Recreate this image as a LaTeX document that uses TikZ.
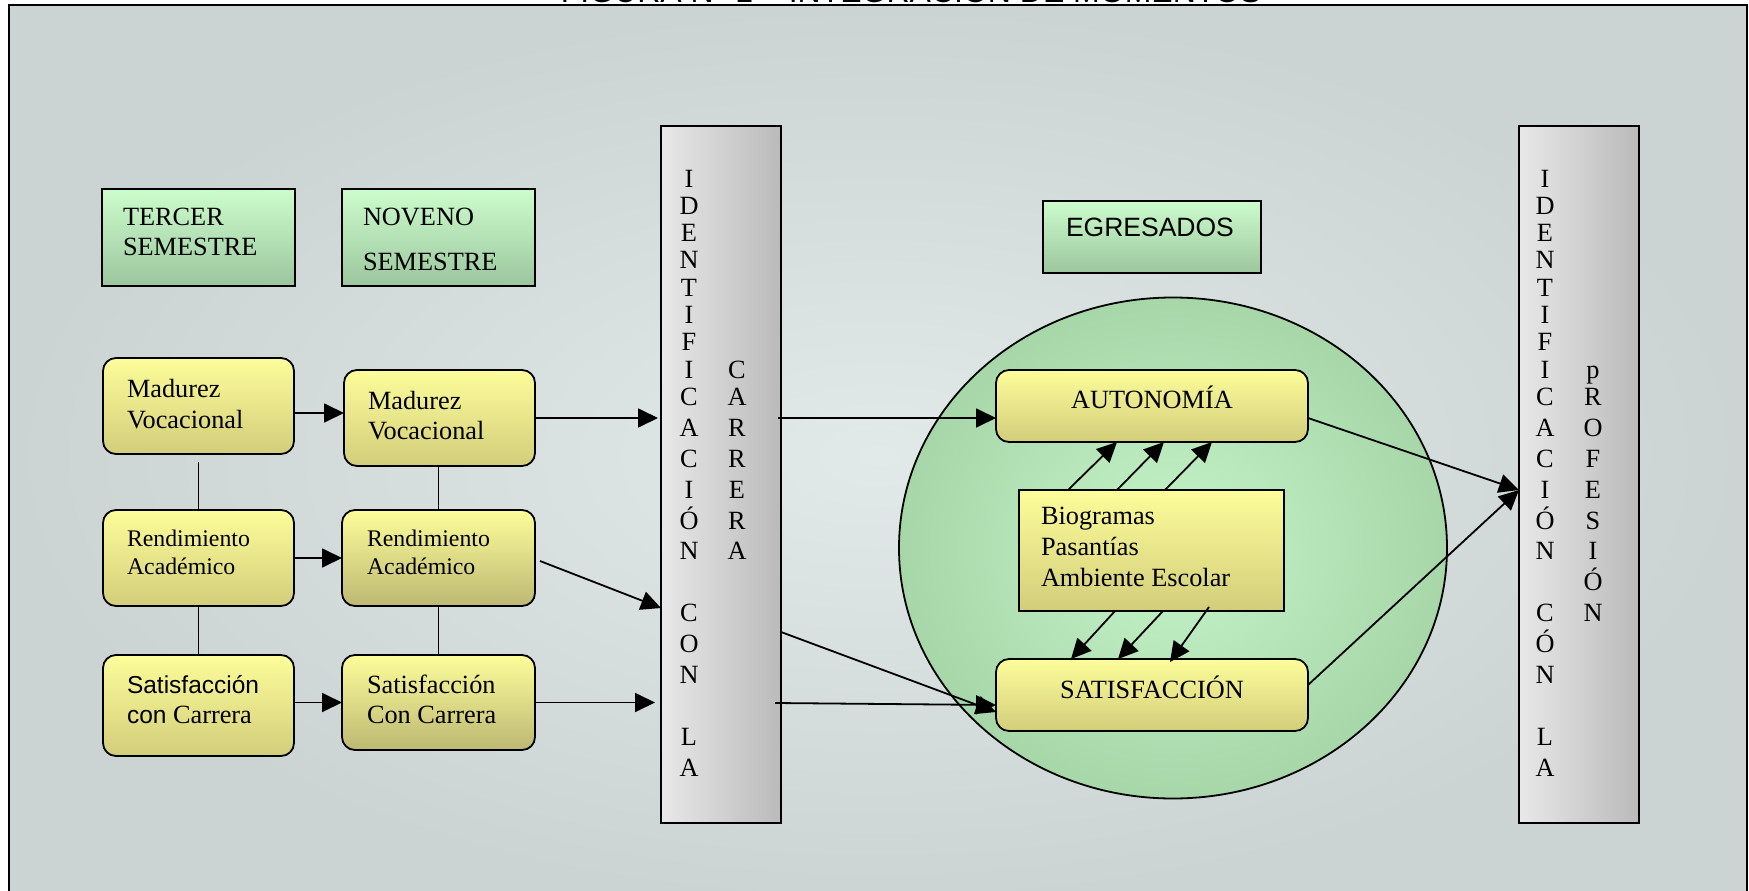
\documentclass[tikz,border=0pt]{standalone}
\usepackage{fontspec}
\setmainfont{Liberation Serif}
\newfontfamily\arialf{Liberation Sans}
\usetikzlibrary{arrows.meta,shapes.geometric,calc}
\definecolor{bgin}{HTML}{E1EAE9}
\definecolor{bgout}{HTML}{CBD4D3}
\definecolor{grtop}{HTML}{CCFCCC}
\definecolor{grbot}{HTML}{9CC69E}
\definecolor{yetop}{HTML}{FDFD9A}
\definecolor{yebot}{HTML}{D2CD7B}
\definecolor{yebotb}{HTML}{BDB873}
\definecolor{colL}{HTML}{E8E8E8}
\definecolor{colR}{HTML}{BABABA}
\definecolor{cirin}{HTML}{C4F4C8}
\definecolor{cirout}{HTML}{A7D7A9}
\begin{document}
\begin{tikzpicture}[x=1pt,y=-1pt,
  declare function={rowy(\r)=(\r<=9)?(187+(\r-1)*27.3):(405.4+(\r-9)*30.9);},
  every node/.style={inner sep=0pt, outer sep=0pt},
  fr/.style={draw=black, line width=1.8pt},
  gbox/.style={fr, top color=grtop, bottom color=grbot, anchor=north west},
  ybox/.style={fr, rounded corners=13pt, top color=yetop, bottom color=yebot, anchor=north west},
  colbox/.style={fr, left color=colL, right color=colR, anchor=north west, minimum width=120pt, minimum height=697pt},
  tx/.style={anchor=base west, font=\fontsize{26.3}{30}\selectfont},
  txs/.style={anchor=base west, font=\fontsize{23.8}{28}\selectfont},
  letter/.style={anchor=base, font=\fontsize{26.3}{30}\selectfont},
  arr/.style={-{Triangle[length=20pt,width=19pt]}, line width=1.8pt},
  ln/.style={line width=1.8pt}
]
\useasboundingbox (0,0) rectangle (1749,891);
% background and frame
\shade[inner color=bgin, outer color=bgout] (9,5) rectangle (1747,905);
\draw[line width=2.5pt] (9,5) rectangle (1747,905);
\node[anchor=base, font=\arialf\fontsize{32}{36}\selectfont] (title) at (911,3) {FIGURA N° 1 – INTEGRACIÓN DE MOMENTOS};

% header boxes
\node[gbox, minimum width=193pt, minimum height=97pt] (tercer) at (102,189) {};
\node[gbox, minimum width=193pt, minimum height=97pt] (noveno) at (342,189) {};
\node[gbox, minimum width=218pt, minimum height=72pt] (egres) at (1043,201) {};

% left boxes
\node[ybox, minimum width=191pt, minimum height=96pt] (mad1) at (103,358) {};
\node[ybox, minimum width=191pt, minimum height=96pt] (mad2) at (344,370) {};
\node[ybox, minimum width=191pt, minimum height=96pt] (rend1) at (103,510) {};
\node[ybox, minimum width=193pt, minimum height=96pt, bottom color=yebotb] (rend2) at (342,510) {};
\node[ybox, minimum width=191pt, minimum height=101pt] (sat1) at (103,655) {};
\node[ybox, minimum width=193pt, minimum height=95pt, bottom color=yebotb] (sat2) at (342,655) {};

% columns
\node[colbox] (colA) at (661,126) {};
\node[colbox] (colB) at (1519,126) {};

% circle and inner boxes
\node[ellipse, fr, inner color=cirin, outer color=cirout, minimum width=548pt, minimum height=501pt] (circ) at (1173,548) {};
\node[ybox, minimum width=312pt, minimum height=72pt] (auto) at (996,370) {};
\node[ybox, minimum width=312pt, minimum height=72pt] (satis) at (996,659) {};
\node[fr, top color=yetop, bottom color=yebot, anchor=north west, minimum width=265pt, minimum height=121pt] (bio) at (1019,490) {};

% vertical links
\draw[ln] ([yshift=-8pt]mad1.south) -- (rend1.north);
\draw[ln] (rend1.south) -- (sat1.north);
\draw[ln] (mad2.south -| rend2.north) -- (rend2.north);
\draw[ln] (rend2.south) -- (sat2.north);

% arrows left
\draw[arr] ([yshift=-7pt]mad1.east) -- ([yshift=5pt]mad2.west);
\draw[arr] (rend1.east) -- (rend2.west);
\draw[arr] (sat1.east |- sat2.west) -- (sat2.west);
\draw[arr, shorten >=3pt] (mad2.east) -- (colA.west |- mad2.east);
\draw[arr] ([xshift=5pt,yshift=-3pt]rend2.east) -- (colA.west |- 0,608);
\draw[arr, shorten >=6pt] (sat2.east) -- (colA.west |- sat2.east);

% arrows middle
\draw[arr] ($(colA.east |- 0,418)+(-3,0)$) -- (auto.west |- 0,418);
\draw[arr] (colA.east |- 0,632) -- (satis.west |- 0,712);
\draw[arr] ($(colA.east |- 0,703)+(-6,0)$) -- (satis.west |- 0,705);
\draw[arr] (auto.east |- 0,418) -- (colB.west |- 0,490);
\draw[arr] (satis.east |- 0,685) -- (colB.west |- 0,490);

% bio arrows
\draw[arr] (1068,0 |- bio.north) -- (1117,0 |- auto.south);
\draw[arr] (1117,0 |- bio.north) -- (1164,0 |- auto.south);
\draw[arr] (1165,0 |- bio.north) -- (1212,0 |- auto.south);
\draw[arr] (1115,0 |- bio.south) -- (1071,0 |- satis.north);
\draw[arr] (1163,0 |- bio.south) -- (1118,0 |- satis.north);
\draw[arr] ($(1209,0 |- bio.south)+(0,-4)$) -- ($(1170,0 |- satis.north)+(0,3)$);

% texts
\node[tx] (t1a) at (123,225) {TERCER};
\node[tx] (t1b) at (123,255) {SEMESTRE};
\node[tx] (t2a) at (363,225) {NOVENO};
\node[tx] (t2b) at (363,270) {SEMESTRE};
\node[tx] (m1a) at (127,397) {Madurez};
\node[tx] (m1b) at (127,428) {Vocacional};
\node[tx] (m2a) at (368,409) {Madurez};
\node[tx] (m2b) at (368,439) {Vocacional};
\node[txs] (r1a) at (127,546) {Rendimiento};
\node[txs] (r1b) at (127,574) {Académico};
\node[txs] (r2a) at (367,546) {Rendimiento};
\node[txs] (r2b) at (367,574) {Académico};
\node[tx] (s1a) at (127,693) {\arialf\fontsize{24.5}{28}\selectfont Satisfacción};
\node[tx] (s1b) at (127,723) {{\arialf\fontsize{24.5}{28}\selectfont con} Carrera};
\node[tx] (s2a) at (367,693) {Satisfacción};
\node[tx] (s2b) at (367,723) {Con Carrera};
\node[anchor=base west, font=\arialf\fontsize{26.5}{30}\selectfont] (eg) at (1066,236) {EGRESADOS};
\node[letter] (autot) at (1152,408) {AUTONOMÍA};
\node[letter] (satt) at (1152,698) {SATISFACCIÓN};
\node[tx] (b1) at (1041,524) {Biogramas};
\node[tx] (b2) at (1041,555) {Pasantías};
\node[tx] (b3) at (1041,586) {Ambiente Escolar};

% column letters
\foreach \ch/\r in {I/1,D/2,E/3,N/4,T/5,I/6,F/7,I/8,C/9,A/10,C/11,I/12,Ó/13,N/14,C/16,O/17,N/18,L/20,A/21}
  \node[letter] (ca\r) at (689,{rowy(\r)}) {\ch};
\foreach \ch/\r in {C/8,A/9,R/10,R/11,E/12,R/13,A/14}
  \node[letter] (cb\r) at (737,{rowy(\r)}) {\ch};
\foreach \ch/\r in {I/1,D/2,E/3,N/4,T/5,I/6,F/7,I/8,C/9,A/10,C/11,I/12,Ó/13,N/14,C/16,Ó/17,N/18,L/20,A/21}
  \node[letter] (pa\r) at (1545,{rowy(\r)}) {\ch};
\foreach \ch/\r in {p/8,R/9,O/10,F/11,E/12,S/13,I/14,Ó/15,N/16}
  \node[letter] (pb\r) at (1593,{rowy(\r)}) {\ch};
\end{tikzpicture}
\end{document}
